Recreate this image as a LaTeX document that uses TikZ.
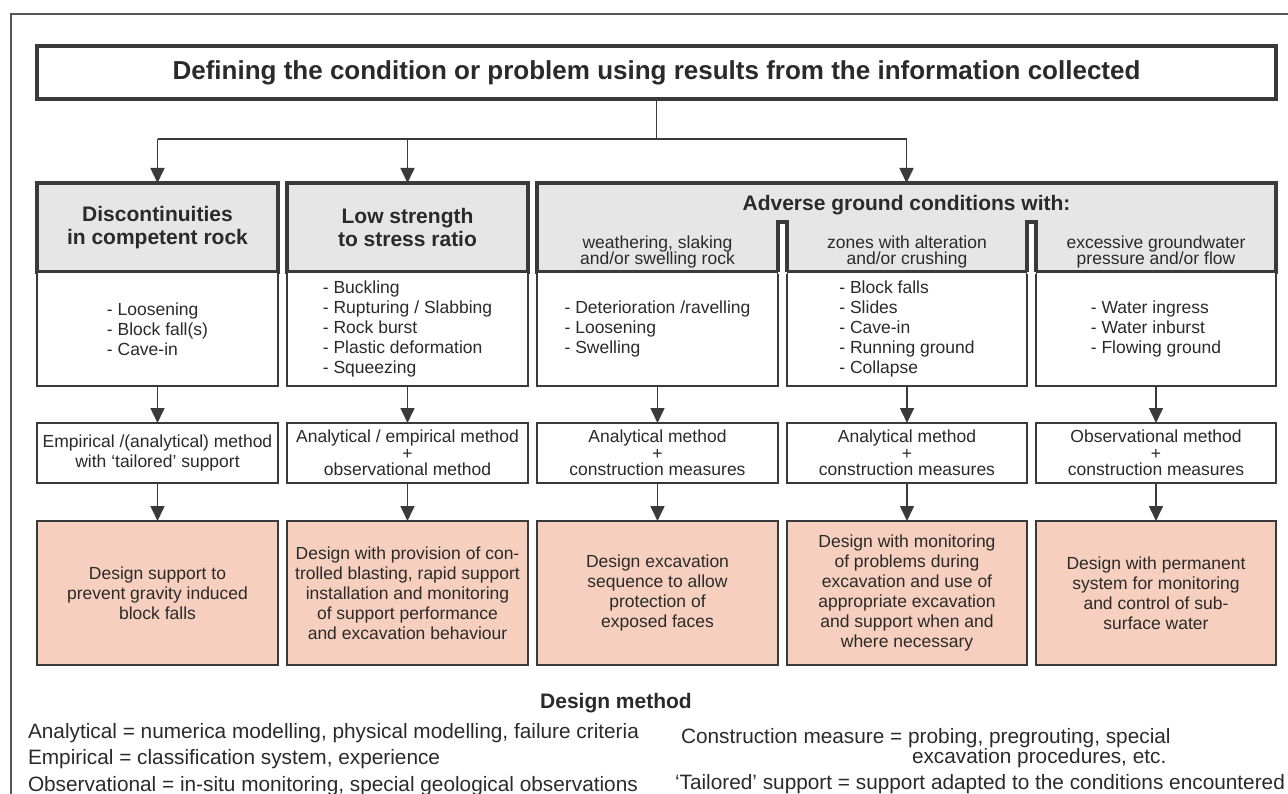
\documentclass[tikz,border=0pt]{standalone}
\usepackage{fontspec}
\setmainfont{Liberation Sans}
\usepackage{tikz}
\usetikzlibrary{arrows.meta,calc,positioning}

\definecolor{boxline}{HTML}{3A3A3A}
\definecolor{headgray}{HTML}{E6E6E6}
\definecolor{designpink}{RGB}{247,207,190}
\definecolor{txtgray}{HTML}{2A2A2A}

\begin{document}
\begin{tikzpicture}[x=1pt, y=-1pt,
    every node/.style={text=txtgray, inner sep=0pt, outer sep=0pt},
    topbox/.style={draw=boxline, line width=3.4pt, fill=white, minimum width=1239pt, minimum height=53pt, font=\bfseries\fontsize{26}{30}\selectfont},
    headbox/.style={draw=boxline, line width=3.4pt, fill=headgray, minimum width=241pt, minimum height=89pt, align=center, font=\bfseries\fontsize{21}{22.5}\selectfont},
    listbox/.style={draw=boxline, line width=1.8pt, fill=white, minimum width=241pt, minimum height=114pt, align=left, font=\fontsize{17.5}{20}\selectfont},
    methodbox/.style={draw=boxline, line width=1.8pt, fill=white, minimum width=241pt, minimum height=60pt, align=center, font=\fontsize{17.5}{16.5}\selectfont},
    designbox/.style={draw=boxline, line width=1.8pt, fill=designpink, minimum width=241pt, minimum height=144pt, align=center, font=\fontsize{17.5}{20}\selectfont},
    subhead/.style={align=center, font=\fontsize{17.5}{16.5}\selectfont},
    arr/.style={draw=boxline, line width=1.6pt, -{Triangle[length=15pt,width=14pt]}},
    legend/.style={anchor=base west, font=\fontsize{20.8}{22}\selectfont}
  ]
  \useasboundingbox (0,0) rectangle (1288,794);
  \draw[boxline!85, line width=1.5pt] (11,794) -- (11,14) -- (1288,14);

  \node[topbox] (problem) at (656.5,72.5) {Defining the condition or problem using results from the information collected};

  % condition headers
  \node[headbox, anchor=north west] (discont) at (37,183) {Discontinuities\\in competent rock};
  \node[headbox, right=9pt of discont] (lowstress) {Low strength\\to stress ratio};
  \node[headbox, right=9pt of lowstress, minimum width=739pt] (adverse) {};
  \node[anchor=base, font=\bfseries\fontsize{21}{22.5}\selectfont] (advtitle) at ($(adverse.north)+(0,27.5)$) {Adverse ground conditions with:};

  \coordinate (branch) at ($(problem.south)+(0,40)$);
  \draw[boxline, line width=1.6pt] (problem.south) -- (branch);
  \draw[boxline, line width=1.6pt] (branch -| discont.north) -- (branch -| adverse.north);
  \foreach \col in {discont,lowstress,adverse}
    \draw[arr] (branch -| \col.north) -- (\col.north);

  % problems
  \node[listbox, below=0pt of discont] (discontlist) {- Loosening\\- Block fall(s)\\- Cave-in};
  \node[listbox, below=0pt of lowstress] (lowstresslist) {- Buckling\\- Rupturing / Slabbing\\- Rock burst\\- Plastic deformation\\- Squeezing};
  \node[listbox, anchor=north west] (weatherlist) at (adverse.south west) {- Deterioration /ravelling\\- Loosening\\- Swelling};
  \node[listbox, right=9pt of weatherlist, minimum width=240pt] (zonelist) {- Block falls\\- Slides\\- Cave-in\\- Running ground\\- Collapse};
  \node[listbox, right=9pt of zonelist, minimum width=240pt] (waterlist) {- Water ingress\\- Water inburst\\- Flowing ground};

  % slots between the sub-headers
  \fill[white] ($(weatherlist.north east)+(0,1.8)$) rectangle ($(zonelist.north west)+(0,-50)$);
  \fill[white] ($(zonelist.north east)+(0,1.8)$) rectangle ($(waterlist.north west)+(0,-50)$);
  \draw[boxline, line width=3.4pt] (weatherlist.north east) -- ++(0,-50) -| (zonelist.north west);
  \draw[boxline, line width=3.4pt] (zonelist.north east) -- ++(0,-50) -| (waterlist.north west);

  \node[subhead] (weatherhead) at ($(weatherlist.north)+(0,-20)$) {weathering, slaking\\and/or swelling rock};
  \node[subhead] (zonehead) at ($(zonelist.north)+(0,-20)$) {zones with alteration\\and/or crushing};
  \node[subhead] (waterhead) at ($(waterlist.north)+(0,-20)$) {excessive groundwater\\pressure and/or flow};

  % methods
  \node[methodbox, below=37pt of discontlist] (discontmethod) {Empirical /(analytical) method\\[4pt]with ‘tailored’ support};
  \node[methodbox, below=37pt of lowstresslist] (lowstressmethod) {Analytical / empirical method\\+\\observational method};
  \node[methodbox, below=37pt of weatherlist] (weathermethod) {Analytical method\\+\\construction measures};
  \node[methodbox, below=37pt of zonelist, minimum width=240pt] (zonemethod) {Analytical method\\+\\construction measures};
  \node[methodbox, below=37pt of waterlist, minimum width=240pt] (watermethod) {Observational method\\+\\construction measures};

  % designs
  \node[designbox, below=38pt of discontmethod] (discontdesign) {Design support to\\prevent gravity induced\\block falls};
  \node[designbox, below=38pt of lowstressmethod] (lowstressdesign) {Design with provision of con-\\trolled blasting, rapid support\\installation and monitoring\\of support performance\\and excavation behaviour};
  \node[designbox, below=38pt of weathermethod] (weatherdesign) {Design excavation\\sequence to allow\\protection of\\exposed faces};
  \node[designbox, below=38pt of zonemethod, minimum width=240pt] (zonedesign) {Design with monitoring\\of problems during\\excavation and use of\\appropriate excavation\\and support when and\\where necessary};
  \node[designbox, below=38pt of watermethod, minimum width=240pt] (waterdesign) {Design with permanent\\system for monitoring\\and control of sub-\\surface water};

  \foreach \col in {discont,lowstress,weather,zone,water}{
    \draw[arr] (\col list) -- (\col method);
    \draw[arr] (\col method) -- (\col design);
  }

  % legend
  \node[font=\bfseries\fontsize{21}{22}\selectfont] (legendtitle) at (616,703) {Design method};
  \node[legend] (analytic) at (28,738) {Analytical = numerica modelling, physical modelling, failure criteria};
  \node[legend] (empiric) at ($(analytic.base west)+(0,26.5)$) {Empirical = classification system, experience};
  \node[legend] (observ) at ($(empiric.base west)+(0,26.5)$) {Observational = in-situ monitoring, special geological observations};
  \node[legend] (construct) at (681,743) {Construction measure = probing, pregrouting, special};
  \node[legend] (constructb) at (912,763) {excavation procedures, etc.};
  \node[legend] (tailor) at (675,789) {‘Tailored’ support = support adapted to the conditions encountered};
\end{tikzpicture}
\end{document}
